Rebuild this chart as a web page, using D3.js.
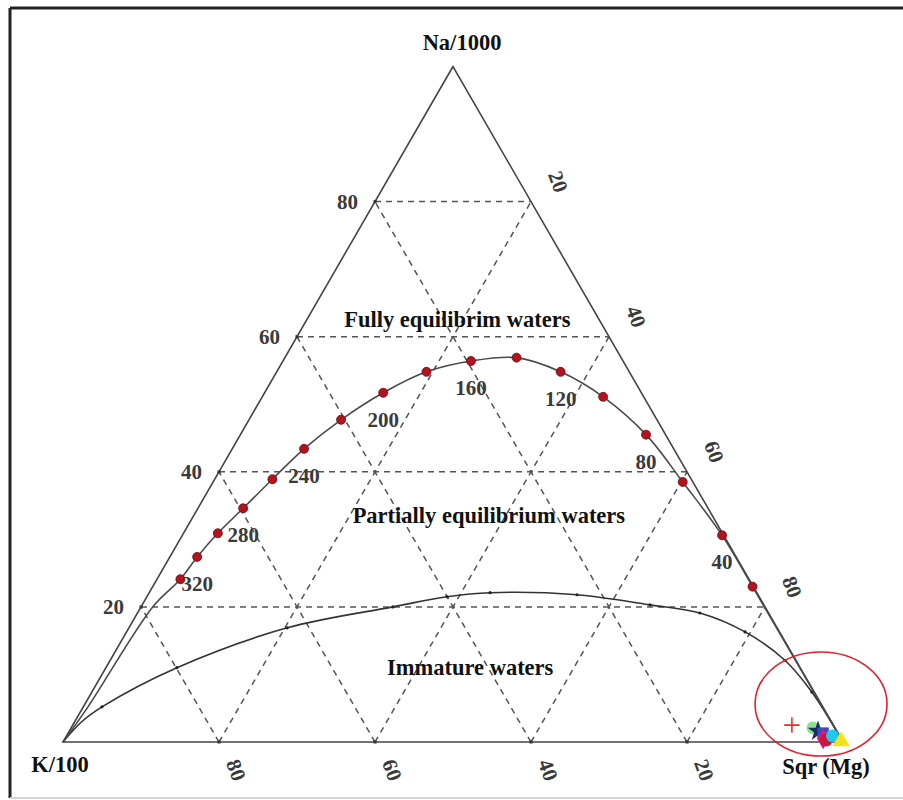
<!DOCTYPE html>
<html>
<head>
<meta charset="utf-8">
<script src="https://cdn.jsdelivr.net/npm/d3@7"></script>
<style>
  html, body { margin: 0; padding: 0; background: #fff; }
  svg { display: block; }
  text { font-family: "Liberation Serif", "Times New Roman", serif; }
</style>
</head>
<body>
<svg id="chart" width="903" height="800"></svg>
<script>
// Giggenbach Na-K-Mg ternary: vertices Na/1000 (top), K/100 (left), Sqr(Mg) (right).
// Compositions are given as percentages of the three scaled components.

// Full equilibrium line: temperature (°C) and composition of each marker
const eqTemp = [340, 320, 300, 280, 260, 240, 220, 200, 180, 160, 140, 120, 100, 80, 60, 40, 20];
const eqNa   = [24.1, 27.4, 30.9, 34.6, 38.9, 43.4, 47.7, 51.7, 54.8, 56.4, 56.9, 54.8, 51.1, 45.5, 38.5, 30.6, 23.0];
const eqK    = [72.9, 69.1, 64.7, 59.6, 53.7, 47.4, 40.5, 33.1, 26.0, 19.5, 13.4, 8.8, 5.2, 2.5, 1.3, 0.2, 0.1];
const eqMg   = [3.0, 3.5, 4.4, 5.8, 7.4, 9.2, 11.8, 15.2, 19.2, 24.1, 29.7, 36.4, 43.7, 52.0, 60.2, 69.2, 76.9];
// Temperatures written beside the line
const eqLabelTemps = [40, 80, 120, 160, 200, 240, 280, 320];

// Tail of the equilibrium line running into the K/100 corner
const eqTailNa = [0, 5.2, 20.0];
const eqTailK  = [100, 94.2, 78.5];
const eqTailMg = [0, 0.6, 1.5];

// Boundary between partially equilibrated and immature waters
const immNa = [0, 3.0, 5.2, 11.0, 16.9, 20.0, 21.5, 22.1, 21.8, 20.3, 19.1, 16.3, 12.1, 7.4, 0];
const immK  = [100, 96.1, 92.4, 79.9, 62.8, 47.7, 40.0, 34.2, 23.2, 14.6, 8.8, 4.4, 1.4, 0.3, 0];
const immMg = [0, 0.9, 2.4, 9.1, 20.3, 32.3, 38.5, 43.7, 55.0, 65.1, 72.1, 79.3, 86.5, 92.3, 100];

// Water samples
const sampleNa = [2.5, 2.1, 1.6, 1.3, 0.5, 0.3, 0.9, 0.1];
const sampleK  = [5.3, 2.8, 2.4, 1.9, 2.3, 2.0, 0.9, 0.2];
const sampleMg = [92.2, 95.1, 96.0, 96.8, 97.2, 97.7, 98.2, 99.7];
const sampleColor  = ["#ee2a2a", "#8fe08a", "#1a2a6a", "#2f4fb8", "#d01a8a", "#d0143c", "#20c8ee", "#f2e21a"];
const sampleSymbol = ["plus", "circle", "star", "square", "diamond", "circle", "circle", "triangle"];

// Grid / tick values (percent)
const gridVals = [20, 40, 60, 80];
const naTicks  = [20, 40, 60, 80];   // left side
const mgTicks  = [20, 40, 60, 80];   // right side
const kTicks   = [80, 60, 40, 20];   // base

// Region and vertex captions
const regionLabels = ["Fully equilibrim waters", "Partially equilibrium waters", "Immature waters"];
const vertexLabels = ["Na/1000", "K/100", "Sqr (Mg)"];

// ---------------------------------------------------------------
const svg = d3.select("#chart");

const left = 63, right = 843, base = 742;
const side = right - left;
const height = side * Math.sqrt(3) / 2;

// Scales: Na percentage to vertical position, (Mg + Na/2) to horizontal position
const yNa = d3.scaleLinear().domain([0, 100]).range([base, base - height]);
const xT  = d3.scaleLinear().domain([0, 100]).range([left, right]);
const proj = (na, k, mg) => {
  const s = na + k + mg;
  const n = na / s * 100, m = mg / s * 100;
  return [xT(m + n / 2), yNa(n)];
};

// Frame around the figure
svg.append("line").attr("x1", 10).attr("y1", 8).attr("x2", 903).attr("y2", 8)
  .attr("stroke", "#222").attr("stroke-width", 3);
svg.append("line").attr("x1", 10).attr("y1", 8).attr("x2", 10).attr("y2", 798)
  .attr("stroke", "#222").attr("stroke-width", 3);
svg.append("line").attr("x1", 10).attr("y1", 798).attr("x2", 903).attr("y2", 798)
  .attr("stroke", "#d5d5d5").attr("stroke-width", 2);

const line = d3.line();

// Dashed grid
const grid = svg.append("g").attr("fill", "none").attr("stroke", "#555")
  .attr("stroke-width", 1.5).attr("stroke-dasharray", "6,5");
gridVals.forEach(v => {
  grid.append("path").attr("d", line([proj(v, 100 - v, 0), proj(v, 0, 100 - v)]));
  grid.append("path").attr("d", line([proj(0, 100 - v, v), proj(100 - v, 0, v)]));
  grid.append("path").attr("d", line([proj(0, v, 100 - v), proj(100 - v, v, 0)]));
});

// Triangle outline
const A = proj(100, 0, 0), B = proj(0, 100, 0), C = proj(0, 0, 100);
svg.append("path").attr("d", line([A, B, C]) + "Z")
  .attr("fill", "none").attr("stroke", "#444").attr("stroke-width", 1.6);

// Small marks where grid meets the edges
const edgeMarks = [];
gridVals.forEach(v => {
  edgeMarks.push(proj(v, 100 - v, 0), proj(0, 100 - v, v));
});
svg.append("g").selectAll("rect").data(edgeMarks).join("rect")
  .attr("x", d => d[0] - 1.5).attr("y", d => d[1] - 1.5)
  .attr("width", 3).attr("height", 3).attr("fill", "#333");

// Immature-water boundary
const immPts = immNa.map((n, i) => proj(n, immK[i], immMg[i]));
svg.append("path")
  .attr("d", d3.line().curve(d3.curveCatmullRom.alpha(0.5))(immPts))
  .attr("fill", "none").attr("stroke", "#333").attr("stroke-width", 1.6);
svg.append("g").selectAll("circle").data(immPts.slice(2, -1)).join("circle")
  .attr("cx", d => d[0]).attr("cy", d => d[1]).attr("r", 1.6).attr("fill", "#222");

// Full equilibrium line
const eqPts = eqNa.map((n, i) => proj(n, eqK[i], eqMg[i]));
const tailPts = eqTailNa.map((n, i) => proj(n, eqTailK[i], eqTailMg[i]));
const eqPath = tailPts.concat(eqPts, [C]);
svg.append("path")
  .attr("d", d3.line().curve(d3.curveCatmullRom.alpha(0.5))(eqPath))
  .attr("fill", "none").attr("stroke", "#4a4a4a").attr("stroke-width", 1.6);
svg.append("g").selectAll("circle").data(eqPts).join("circle")
  .attr("cx", d => d[0]).attr("cy", d => d[1]).attr("r", 4.5)
  .attr("fill", "#b3121f").attr("stroke", "#6a0a10").attr("stroke-width", 0.8);

// Temperature labels
svg.append("g").selectAll("text").data(eqLabelTemps).join("text")
  .attr("x", t => eqPts[eqTemp.indexOf(t)][0])
  .attr("y", t => eqPts[eqTemp.indexOf(t)][1] + 27)
  .attr("text-anchor", "middle").attr("dominant-baseline", "central")
  .attr("font-size", 21).attr("font-weight", "bold").attr("fill", "#3a3a3a")
  .text(t => t);

// Tick labels on the three sides
const tickStyle = sel => sel.attr("font-size", 21).attr("font-weight", "bold").attr("fill", "#3a3a3a");
svg.append("g").selectAll("text").data(naTicks).join("text")
  .attr("x", v => proj(v, 100 - v, 0)[0] - 17).attr("y", v => proj(v, 100 - v, 0)[1])
  .attr("text-anchor", "end").attr("dominant-baseline", "central")
  .call(tickStyle).text(v => v);
svg.append("g").selectAll("text").data(mgTicks).join("text")
  .attr("transform", v => {
    const p = proj(100 - v, 0, v);
    return `translate(${p[0] + 27},${p[1] - 20}) rotate(70)`;
  })
  .attr("text-anchor", "middle").attr("dominant-baseline", "central")
  .call(tickStyle).text(v => v);
svg.append("g").selectAll("text").data(kTicks).join("text")
  .attr("transform", v => {
    const p = proj(0, v, 100 - v);
    return `translate(${p[0] + 17},${p[1] + 28}) rotate(70)`;
  })
  .attr("text-anchor", "middle").attr("dominant-baseline", "central")
  .call(tickStyle).text(v => v);

// Region captions
const regionPos = [proj(62.5, 18.2, 19.3), proj(33.6, 28.6, 37.8), proj(11.0, 42.3, 46.7)];
svg.append("g").selectAll("text").data(regionLabels).join("text")
  .attr("x", (d, i) => regionPos[i][0]).attr("y", (d, i) => regionPos[i][1])
  .attr("text-anchor", "middle").attr("dominant-baseline", "central")
  .attr("font-size", 22.5).attr("font-weight", "bold").attr("fill", "#111")
  .text(d => d);

// Vertex captions
const vPos = [[A[0] + 9, A[1] - 24], [B[0] - 3, B[1] + 22], [C[0] - 17, C[1] + 24]];
svg.append("g").selectAll("text").data(vertexLabels).join("text")
  .attr("x", (d, i) => vPos[i][0]).attr("y", (d, i) => vPos[i][1])
  .attr("text-anchor", "middle").attr("dominant-baseline", "central")
  .attr("font-size", 22.5).attr("font-weight", "bold").attr("fill", "#111")
  .text(d => d);

// Samples
const symType = {
  plus: d3.symbolPlus, circle: d3.symbolCircle, star: d3.symbolStar,
  square: d3.symbolSquare, diamond: d3.symbolDiamond, triangle: d3.symbolTriangle
};
const samples = sampleNa.map((n, i) => ({ p: proj(n, sampleK[i], sampleMg[i]), i }));
svg.append("g").selectAll("path").data(samples).join("path")
  .attr("transform", d => `translate(${d.p[0]},${d.p[1]})`)
  .attr("d", d => d3.symbol(symType[sampleSymbol[d.i]], sampleSymbol[d.i] === "plus" ? 80 : 130)())
  .attr("fill", d => sampleSymbol[d.i] === "plus" ? "none" : sampleColor[d.i])
  .attr("stroke", d => sampleSymbol[d.i] === "plus" ? sampleColor[d.i] : "none")
  .attr("stroke-width", 1.6);

// Highlight ring around the sample cluster
svg.append("ellipse")
  .attr("cx", C[0] - 22).attr("cy", C[1] - 38).attr("rx", 66).attr("ry", 52)
  .attr("fill", "none").attr("stroke", "#e4202c").attr("stroke-width", 1.6);
</script>
</body>
</html>
